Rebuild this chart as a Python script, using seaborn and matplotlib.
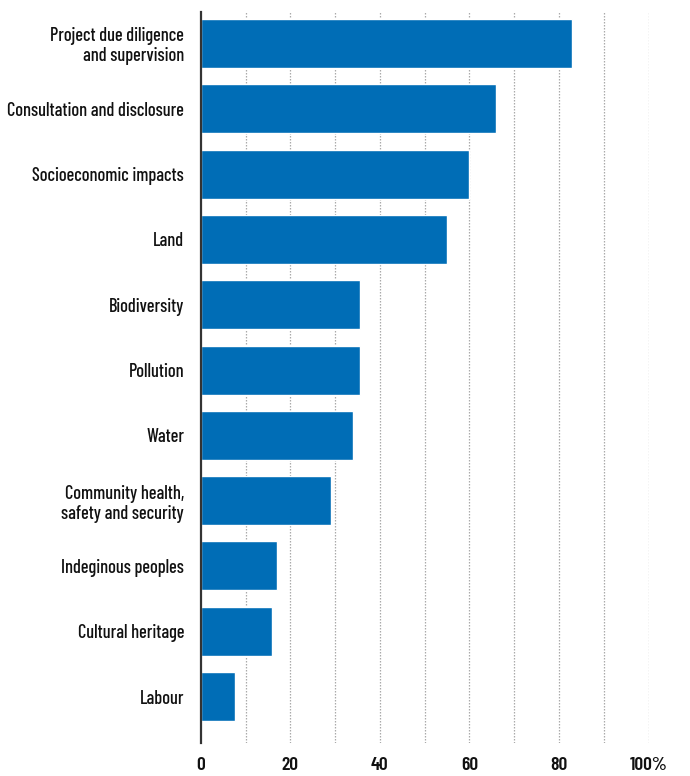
import pandas as pd
import seaborn as sns
import matplotlib.pyplot as plt

# DATA
categories = ['Project due diligence\nand supervision', 'Consultation and disclosure',
              'Socioeconomic impacts', 'Land', 'Biodiversity', 'Pollution', 'Water',
              'Community health,\nsafety and security', 'Indeginous peoples',
              'Cultural heritage', 'Labour']
shares = [83, 66, 60, 55, 35.6, 35.6, 34, 29, 17, 16, 7.6]
tick_values = [0, 20, 40, 60, 80, 100]
tick_labels = ['0', '20', '40', '60', '80', '100%']

df = pd.DataFrame({'category': categories, 'share': shares})

sns.set_style('white')
plt.rcParams['font.family'] = ['Barlow Condensed', 'DejaVu Sans']

fig = plt.figure(figsize=(6.9, 7.76), dpi=100)
ax = fig.add_axes([0.291, 0.0425, 0.649, 0.942])

sns.barplot(data=df, x='share', y='category', color='#006db6', saturation=1,
            width=0.75, ax=ax, zorder=3)

ax.set_xlim(0, 100)
ax.set_ylim(10.71, -0.48)
# dotted grid every 10
for v in range(10, 101, 10):
    ax.axvline(v, color='#aaaaaa', lw=0.9, ls=(0, (1.2, 1.2)), zorder=1)
ax.set_xticks(tick_values)
ax.set_xticklabels(tick_labels, fontsize=14, color='#111111', fontweight=600)
ax.tick_params(axis='x', length=0, pad=10)
ax.tick_params(axis='y', length=0, pad=12)
ax.set_yticks(range(len(categories)))
ax.set_yticklabels(categories, fontsize=13.2, color='#111111', fontweight=500,
                   linespacing=1.15)
ax.set_xlabel('')
ax.set_ylabel('')
for s in ['top', 'right', 'bottom']:
    ax.spines[s].set_visible(False)
ax.spines['left'].set_color('#333333')
ax.spines['left'].set_linewidth(1.6)
ax.spines['left'].set_zorder(5)

plt.savefig('out.png', dpi=100)
